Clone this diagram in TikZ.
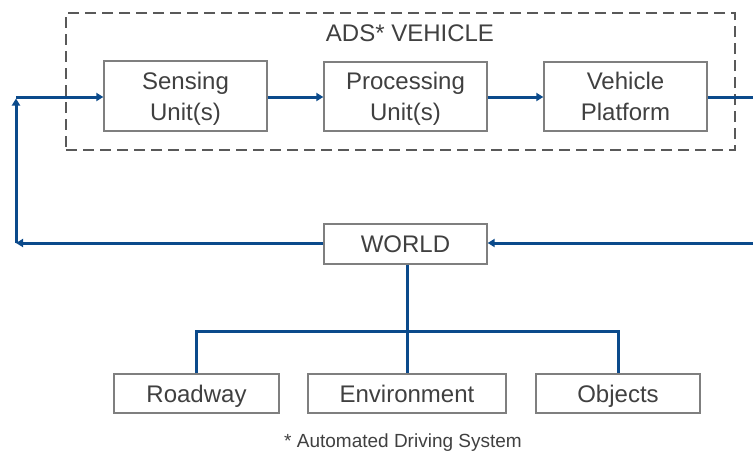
\documentclass[tikz,border=0pt]{standalone}
\usepackage{fontspec}
\setmainfont{Liberation Sans}
\usetikzlibrary{arrows.meta}
\definecolor{txt}{HTML}{404040}
\definecolor{boxc}{HTML}{7F7F7F}
\definecolor{dashc}{HTML}{595959}
\definecolor{flow}{HTML}{0B4A8B}
\begin{document}
\begin{tikzpicture}[x=1pt,y=-1pt,
  blk/.style={draw=boxc,line width=1.3pt,fill=white,inner sep=0pt,align=center,
    text=txt,text depth=0pt,font=\fontsize{24}{31}\selectfont},
  frame/.style={draw=dashc,line width=1.8pt,dash pattern=on 11pt off 6pt,inner sep=0pt},
  flw/.style={draw=flow,line width=3pt},
  arr/.style={flw,-{Triangle[length=7pt,width=8pt]}}]
\useasboundingbox (0,0) rectangle (753,451);
\node[frame,minimum width=669pt,minimum height=137pt] (ads) at (400.5,81.5) {};
\node[text=txt,text depth=0pt,font=\fontsize{24}{29}\selectfont] (title) at (410,33.5) {ADS* VEHICLE};
\node[blk,minimum width=163pt,minimum height=70pt] (sens) at (185.5,96) {Sensing\\Unit(s)};
\node[blk,minimum width=163pt,minimum height=69pt] (proc) at (405.5,96.5) {Processing\\Unit(s)};
\node[blk,minimum width=163pt,minimum height=69pt] (veh) at (625.5,96.5) {Vehicle\\Platform};
\node[blk,minimum width=163pt,minimum height=40pt] (world) at (405.5,244) {WORLD};
\node[blk,minimum width=165pt,minimum height=39pt] (road) at (196.5,393.5) {Roadway};
\node[blk,minimum width=198pt,minimum height=39pt] (env) at (407,393.5) {Environment};
\node[blk,minimum width=164pt,minimum height=39pt] (obj) at (618,393.5) {Objects};
\node[text=txt,text depth=0pt,font=\fontsize{19}{22}\selectfont] (note) at (403,441) {* Automated Driving System};
\coordinate (lt) at (16,97);
\coordinate (lb) at (16,243);
\coordinate (rt) at (753,97);
\coordinate (rb) at (753,243);
\coordinate (hub) at (407,331);
\draw[arr] (lt) -- (sens.west |- lt);
\draw[arr] (sens.east |- lt) -- (proc.west |- lt);
\draw[arr] (proc.east |- lt) -- (veh.west |- lt);
\draw[flw] (veh.east |- lt) -- (rt);
\draw[arr] (rb) -- (world.east |- rb);
\draw[arr] (world.west |- lb) -- (lb);
\draw[arr] (lb) -- ([yshift=-1.5pt]lt);
\draw[flw] (world.south -| hub) -- (env.north -| hub);
\draw[flw] (road.north) |- (hub) -| (obj.north);
\end{tikzpicture}
\end{document}
